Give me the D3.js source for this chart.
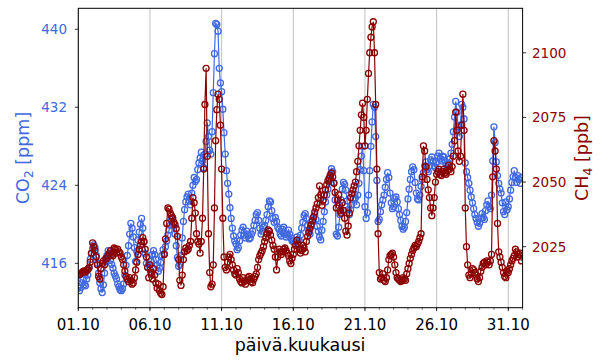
<!DOCTYPE html>
<html><head><meta charset="utf-8">
<script src="https://cdn.jsdelivr.net/npm/d3@7"></script>
<style>body{margin:0;background:#fff}svg{display:block}text{font-family:"DejaVu Sans",sans-serif}</style>
</head><body><svg id="c" width="600" height="360"></svg>
<script>
// ---------- data ----------
const startDate = "2021-10-01T00:00:00Z";
const endDate = "2021-11-01T00:00:00Z";
const stepHours = 2;
const xTickLabels = ["01.10","06.10","11.10","16.10","21.10","26.10","31.10"];
const co2Ticks = [416, 424, 432, 440];
const ch4Ticks = [2025, 2050, 2075, 2100];
// CO2 [ppm], 2-hourly, 12 values per day
const co2 = [
413.6,413.2,413.5,414.0,414.3,413.8,413.7,414.4,414.8,415.5,416.4,417.0, // 1
417.5,417.9,417.6,416.8,416.0,415.0,414.0,413.4,413.0,413.8,415.0,416.2, // 2
416.8,417.3,416.9,416.3,415.9,415.5,415.0,414.7,414.4,413.9,413.6,413.3, // 3
413.2,413.4,413.9,414.8,415.8,416.8,417.8,419.0,420.1,419.6,418.7,417.6, // 4
416.2,417.2,418.4,419.2,420.0,420.6,419.6,418.2,417.0,416.0,415.6,415.9, // 5
415.4,416.2,416.9,417.3,416.9,416.4,415.8,415.2,415.5,416.1,416.8,417.4, // 6
417.0,417.7,418.3,418.9,419.4,419.9,420.5,420.7,420.0,419.0,417.8,416.6, // 7
415.7,415.9,416.8,418.6,420.3,421.5,422.3,422.8,423.1,422.4,422.0,423.2, // 8
424.0,424.8,424.4,424.6,425.6,426.3,426.8,427.4,426.5,425.8,427.2,428.5, // 9
430.4,429.0,427.6,427.2,429.5,433.5,437.5,440.6,440.5,439.8,436.0,434.5, // 10
433.6,431.8,429.4,427.2,425.5,424.2,423.1,421.7,420.6,419.6,418.8,418.3, // 11
418.0,417.4,417.6,418.3,418.9,419.4,419.7,418.9,418.6,419.3,419.0,418.5, // 12
418.6,419.0,419.3,419.9,420.4,421.0,421.2,420.4,419.6,419.0,419.3,419.7, // 13
419.9,420.4,421.0,421.8,422.4,422.3,421.4,420.6,420.2,420.7,420.3,419.7, // 14
419.5,419.0,418.8,419.5,419.7,419.1,418.7,418.9,419.4,419.0,418.6,418.3, // 15
418.3,418.0,418.2,418.7,418.4,418.3,418.9,419.6,420.2,420.9,421.1,420.6, // 16
419.9,419.4,419.0,419.8,420.4,420.7,421.0,420.5,419.8,419.3,418.7,418.4, // 17
419.4,420.3,421.3,422.3,423.0,423.6,424.4,425.1,425.7,425.4,424.3,422.5, // 18
419.0,418.8,419.7,421.0,422.5,423.6,424.3,424.1,423.5,422.4,421.5,421.0, // 19
421.5,422.0,422.6,423.1,422.7,422.0,423.0,424.2,425.6,427.0,428.0,425.5, // 20
421.8,420.6,421.2,423.0,425.5,428.0,430.5,432.3,432.0,429.0,424.5,420.3, // 21
420.5,421.3,422.0,422.5,423.0,423.8,424.6,425.3,424.8,423.2,422.2,421.6, // 22
421.8,422.6,422.8,422.3,421.6,421.0,420.4,419.8,419.5,419.7,420.3,421.2, // 23
422.6,423.6,424.6,425.4,425.9,425.6,424.3,423.2,422.6,422.5,423.0,423.9, // 24
424.6,425.3,426.0,426.4,425.6,425.4,426.0,426.6,426.9,426.4,426.0,425.8, // 25
426.4,427.0,427.3,426.7,426.5,427.0,426.9,426.5,426.1,425.9,426.3,426.7, // 26
427.3,428.2,429.5,431.0,432.6,431.5,430.0,429.0,430.2,432.3,432.0,430.8, // 27
426.3,425.4,424.8,424.2,423.5,422.8,422.2,421.6,421.0,420.6,420.2,419.8, // 28
420.1,420.6,421.1,420.7,420.5,421.4,422.0,422.4,421.8,421.6,423.0,426.5, // 29
430.0,428.4,426.4,425.0,424.2,423.6,423.2,422.2,421.3,421.0,422.3,421.5, // 30
421.8,422.6,423.5,424.3,424.9,425.5,424.8,424.3,425.0,424.6,424.2,424.8  // 31
];
// CH4 [ppb], 2-hourly, 12 values per day
const ch4 = [
2014.0,2014.3,2014.6,2015.0,2015.4,2015.6,2015.2,2015.8,2016.2,2017.0,2019.0,2022.5, // 1
2026.5,2025.0,2023.5,2021.0,2018.0,2013.5,2012.5,2016.5,2018.5,2019.5,2018.0,2020.5, // 2
2020.5,2021.5,2022.5,2023.5,2022.0,2021.5,2024.5,2024.0,2022.5,2024.0,2023.0,2022.5, // 3
2021.0,2020.0,2018.0,2015.5,2013.5,2012.5,2011.5,2013.0,2012.0,2010.5,2011.0,2013.0, // 4
2016.0,2019.0,2022.0,2024.0,2025.5,2027.0,2028.5,2027.0,2024.0,2021.0,2017.0,2013.0, // 5
2018.0,2015.0,2012.5,2016.5,2014.0,2011.0,2009.0,2010.5,2008.0,2007.0,2006.5,2009.5, // 6
2022.0,2028.0,2034.0,2040.0,2039.5,2038.0,2037.0,2036.0,2034.5,2033.5,2032.0,2029.0, // 7
2020.0,2012.0,2010.0,2014.0,2020.0,2023.0,2024.5,2023.5,2024.0,2025.5,2027.0,2036.0, // 8
2044.0,2042.0,2038.0,2030.0,2027.0,2026.0,2022.5,2027.0,2036.0,2055.0,2080.0,2094.0, // 9
2060.0,2030.0,2015.0,2009.5,2010.5,2018.0,2040.0,2066.0,2078.0,2084.0,2082.0,2072.0, // 10
2055.0,2036.0,2021.0,2017.0,2016.0,2019.0,2021.0,2022.0,2020.0,2018.0,2016.0,2014.5, // 11
2014.0,2016.5,2015.0,2012.5,2011.5,2011.0,2013.0,2011.5,2010.5,2012.0,2013.0,2013.5, // 12
2012.5,2011.5,2011.0,2012.5,2013.5,2014.5,2017.0,2020.0,2021.5,2022.5,2023.5,2025.0, // 13
2027.0,2028.5,2030.0,2031.5,2031.0,2029.5,2027.5,2025.5,2024.0,2021.0,2016.0,2021.0, // 14
2024.0,2023.0,2022.0,2023.0,2024.0,2024.5,2023.5,2022.5,2021.5,2019.5,2018.5,2020.5, // 15
2022.0,2024.0,2025.5,2027.5,2026.0,2024.0,2022.5,2023.5,2025.5,2024.5,2023.0,2027.0, // 16
2029.0,2030.5,2032.0,2033.5,2035.0,2036.5,2038.5,2040.0,2041.5,2044.0,2048.5,2045.0, // 17
2041.0,2043.0,2045.0,2047.0,2049.0,2050.5,2051.5,2052.5,2053.5,2052.0,2049.5,2046.0, // 18
2040.0,2043.0,2045.0,2039.0,2038.0,2042.0,2039.0,2036.0,2031.0,2029.5,2033.0,2038.0, // 19
2044.0,2045.5,2047.0,2048.5,2050.0,2054.0,2058.0,2064.0,2070.0,2076.0,2080.5,2075.0, // 20
2064.0,2070.0,2082.0,2092.0,2100.0,2106.0,2110.0,2112.0,2100.0,2080.0,2055.0,2030.0, // 21
2015.0,2012.5,2013.0,2014.5,2012.0,2011.5,2013.0,2016.0,2020.0,2021.5,2022.0,2022.5, // 22
2021.0,2018.0,2015.0,2013.0,2012.5,2012.0,2011.5,2012.0,2013.0,2012.5,2012.0,2014.5, // 23
2016.5,2018.5,2020.5,2022.0,2023.5,2024.5,2025.5,2025.0,2026.0,2027.0,2028.5,2030.0, // 24
2052.0,2064.0,2062.0,2056.0,2051.0,2047.0,2044.0,2040.0,2037.0,2040.0,2044.0,2050.0, // 25
2053.0,2054.0,2055.0,2053.0,2052.5,2054.0,2055.0,2053.5,2053.0,2054.5,2056.5,2055.0, // 26
2054.0,2056.0,2060.0,2066.0,2077.0,2070.0,2062.0,2058.0,2060.0,2072.0,2084.0,2070.0, // 27
2040.0,2025.0,2018.0,2014.0,2013.0,2014.5,2016.5,2016.0,2015.0,2014.0,2012.5,2011.5, // 28
2013.0,2015.5,2017.0,2018.5,2019.0,2018.0,2019.5,2019.0,2018.0,2019.5,2022.0,2052.0, // 29
2066.0,2062.0,2055.0,2034.0,2023.0,2021.0,2019.0,2017.0,2015.0,2013.5,2013.0,2015.5, // 30
2015.0,2016.5,2018.0,2019.5,2020.5,2021.5,2024.0,2023.0,2021.0,2022.0,2022.5,2019.5  // 31
];

// ---------- chart ----------
const svg = d3.select("#c");
const L = 78.3, R = 522.6, T = 8.3, B = 307.7;
const t0 = new Date(startDate), t1 = new Date(endDate);
const times = d3.utcHour.every(stepHours).range(t0, t1);
const x = d3.scaleUtc().domain([t0, t1]).range([L, R]);
const yL = d3.scaleLinear().domain([411.45, 442.15]).range([B, T]);
const yR = d3.scaleLinear().domain([2001.4, 2117.2]).range([B, T]);
const blue = "#4169e1", red = "#8b0000";

svg.append("clipPath").attr("id","clip").append("rect")
  .attr("x", L).attr("y", T).attr("width", R - L).attr("height", B - T);

const fmt = d3.utcFormat("%d.%m");
const allDays = d3.utcDay.every(1).range(t0, d3.utcDay.offset(t1, 1));
const majorTicks = allDays.filter(d => xTickLabels.includes(fmt(d)));
const minorTicks = allDays.filter(d => x(d) <= R + 0.1);

// grid
svg.append("g").selectAll("line").data(majorTicks).join("line")
  .attr("x1", d => x(d)).attr("x2", d => x(d)).attr("y1", T).attr("y2", B)
  .attr("stroke", "#b0b0b0").attr("stroke-width", 0.8);

const plot = svg.append("g").attr("clip-path", "url(#clip)");
function series(vals, y, color) {
  const pts = vals.map((v, i) => [x(times[i]), y(v)]);
  plot.append("path").attr("d", d3.line()(pts)).attr("fill", "none")
    .attr("stroke", color).attr("stroke-width", 1.2);
  plot.append("g").selectAll("circle").data(pts).join("circle")
    .attr("cx", d => d[0]).attr("cy", d => d[1]).attr("r", 3.0)
    .attr("fill", "none").attr("stroke", color).attr("stroke-width", 1.3);
}
series(co2, yL, blue);
series(ch4, yR, red);

// frame
svg.append("rect").attr("x", L).attr("y", T).attr("width", R - L).attr("height", B - T)
  .attr("fill", "none").attr("stroke", "#000").attr("stroke-width", 1);

// x ticks
svg.append("g").selectAll("line").data(minorTicks).join("line")
  .attr("x1", d => x(d)).attr("x2", d => x(d)).attr("y1", B).attr("y2", B + 2)
  .attr("stroke", "#000").attr("stroke-width", 0.6);
svg.append("g").selectAll("line").data(majorTicks).join("line")
  .attr("x1", d => x(d)).attr("x2", d => x(d)).attr("y1", B).attr("y2", B + 3.5)
  .attr("stroke", "#000").attr("stroke-width", 0.8);
svg.append("g").selectAll("text").data(majorTicks).join("text")
  .attr("x", d => x(d)).attr("y", 330).attr("text-anchor", "middle")
  .attr("font-size", 15).attr("fill", "#000").text(d => fmt(d));

// left ticks
svg.append("g").selectAll("line").data(co2Ticks).join("line")
  .attr("x1", L - 3.5).attr("x2", L).attr("y1", d => yL(d)).attr("y2", d => yL(d))
  .attr("stroke", "#000").attr("stroke-width", 0.8);
svg.append("g").selectAll("text").data(co2Ticks).join("text")
  .attr("x", 67).attr("y", d => yL(d)).attr("dy", "0.36em").attr("text-anchor", "end")
  .attr("font-size", 13.5).attr("fill", blue).text(d => d);

// right ticks
svg.append("g").selectAll("line").data(ch4Ticks).join("line")
  .attr("x1", R).attr("x2", R + 3.5).attr("y1", d => yR(d)).attr("y2", d => yR(d))
  .attr("stroke", "#000").attr("stroke-width", 0.8);
svg.append("g").selectAll("text").data(ch4Ticks).join("text")
  .attr("x", 532).attr("y", d => yR(d)).attr("dy", "0.36em").attr("text-anchor", "start")
  .attr("font-size", 13.5).attr("fill", red).text(d => d);

// axis labels
const lab = svg.append("text").attr("transform", "translate(29,158) rotate(-90)")
  .attr("text-anchor", "middle").attr("font-size", 17.5).attr("fill", blue);
lab.append("tspan").text("CO");
lab.append("tspan").attr("font-size", 12.5).attr("dy", 4).text("2");
lab.append("tspan").attr("dy", -4).text(" [ppm]");

const labR = svg.append("text").attr("transform", "translate(588,158) rotate(-90)")
  .attr("text-anchor", "middle").attr("font-size", 17.5).attr("fill", red);
labR.append("tspan").text("CH");
labR.append("tspan").attr("font-size", 12.5).attr("dy", 4).text("4");
labR.append("tspan").attr("dy", -4).text(" [ppb]");

svg.append("text").attr("x", 300).attr("y", 351).attr("text-anchor", "middle")
  .attr("font-size", 17.5).attr("fill", "#000").text("päivä.kuukausi");
</script></body></html>
